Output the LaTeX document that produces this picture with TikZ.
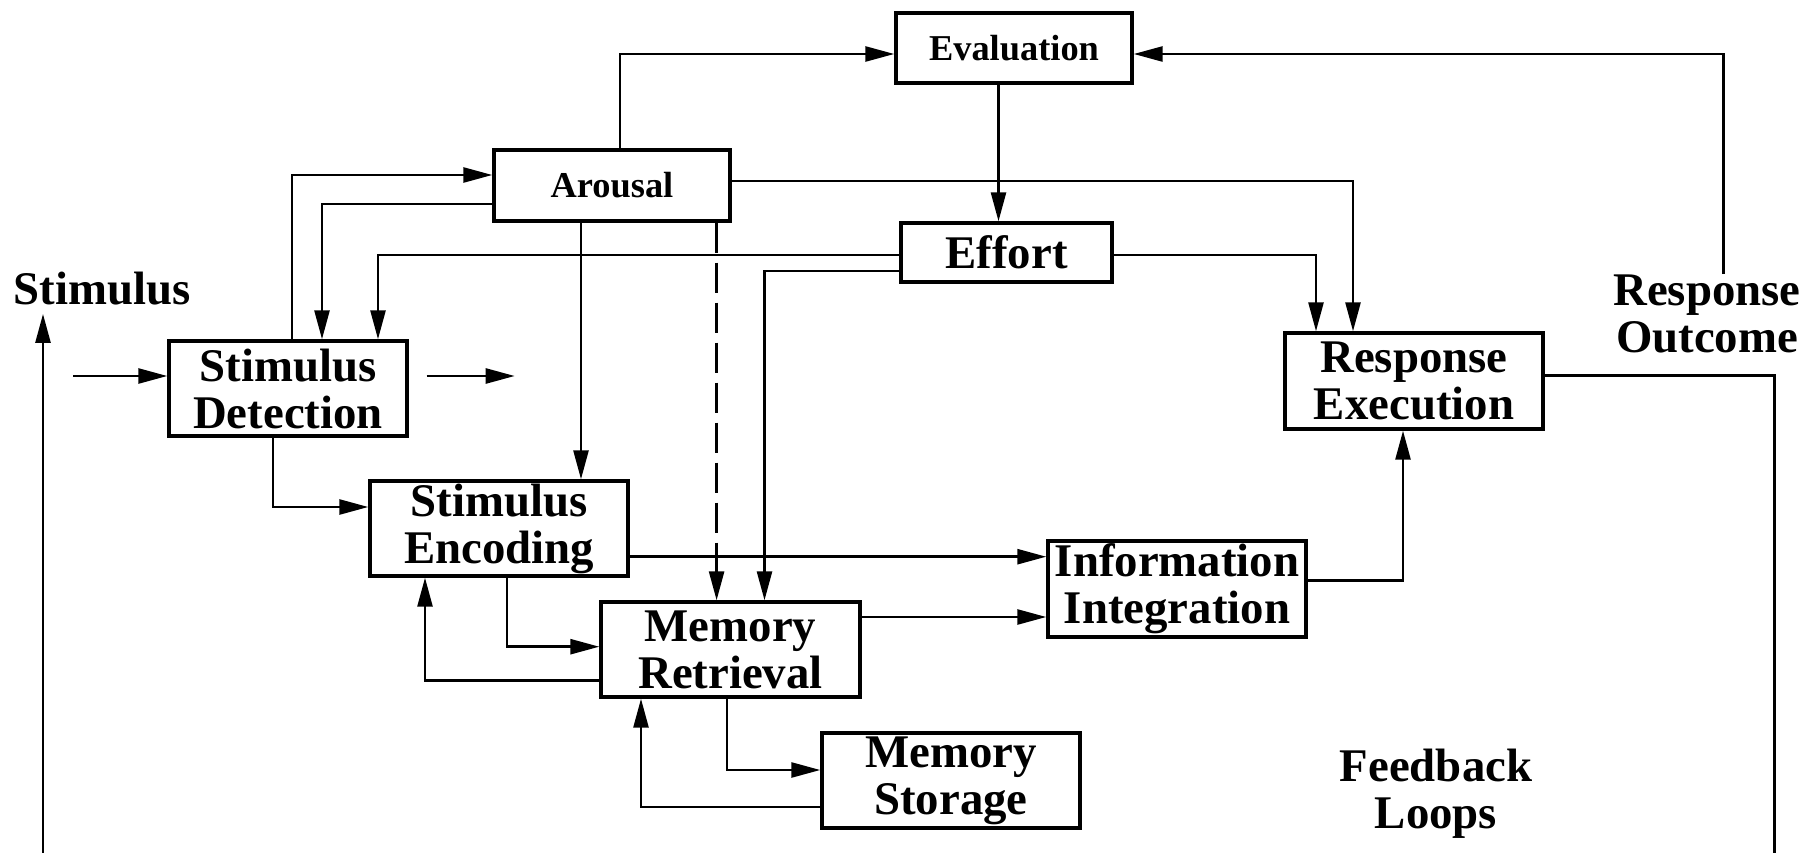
\documentclass[tikz,border=0pt]{standalone}
\usepackage{fontspec}
\setmainfont{Liberation Serif}
\usetikzlibrary{arrows.meta}

\newcommand{\blockfont}{\fontsize{46.8}{47}\selectfont\bfseries}
\newcommand{\smallblockfont}{\fontsize{36.4}{38}\selectfont\bfseries}

\begin{document}
\begin{tikzpicture}[
            x=1pt, y=-1pt,
            block/.style={draw, line width=3.4pt, inner sep=0pt, align=center, font=\blockfont},
            smallblock/.style={block, font=\smallblockfont},
            caption/.style={inner sep=0pt, align=center, font=\blockfont},
            link/.style={line width=2.6pt},
            flow/.style={link, -{Triangle[length=29pt, width=15pt]}},
        ]
            \useasboundingbox (0, 0) rectangle (1812, 853);

            \node[smallblock, minimum width=236, minimum height=70] (evaluation) at (1014, 48) {Evaluation};
            \node[smallblock, minimum width=236, minimum height=71] (arousal) at (612, 185.5) {Arousal};
            \node[block, minimum width=211, minimum height=59] (effort) at (1006.5, 252.5) {Effort};
            \node[block, minimum width=238, minimum height=95] (detection) at (288, 388.5) {Stimulus\\Detection};
            \node[block, minimum width=258, minimum height=95] (encoding) at (499, 528.5) {Stimulus\\Encoding};
            \node[block, minimum width=259, minimum height=95] (retrieval) at (730.5, 649.5) {Memory\\Retrieval};
            \node[block, minimum width=258, minimum height=96] (integration) at (1177, 589) {Information\\Integration};
            \node[block, minimum width=258, minimum height=96] (execution) at (1414, 381) {Response\\Execution};
            \node[block, minimum width=258, minimum height=95] (storage) at (951, 780.5) {Memory\\Storage};

            \node[caption] (stimulus) at (102, 288.5) {Stimulus};
            \node[caption] (outcome) at (1707, 313.5) {Response\\Outcome};
            \node[caption] (feedback) at (1436, 794) {Feedback\\Loops};

            \coordinate (loopL) at (43, 853);
            \coordinate (loopR) at (1774.5, 853);

            % top part
            \draw[flow] ([xshift=8]arousal.north) |- ([yshift=-6]evaluation.east -| evaluation.west);
            \draw[flow] ([xshift=16.6]outcome.north) |- ([yshift=-6]evaluation.east);
            \draw[flow] ([xshift=-15.5]evaluation.south) -- ([xshift=-8]effort.north);
            \draw[flow] ([yshift=4.5]arousal.east) -| ([xshift=-61]execution.north);
            \draw[flow] ([yshift=-2.5]effort.east) -| ([xshift=-98]execution.north);

            % arousal and effort down to the stages
            \draw[flow] ([xshift=4]detection.north) |- ([yshift=10.5]arousal.west);
            \draw[flow] ([yshift=-18.5]arousal.west) -| ([xshift=34]detection.north);
            \draw[flow] ([yshift=-2.5]effort.west) -| ([xshift=90]detection.north);
            \draw[flow] ([xshift=-31]arousal.south) -- ([xshift=82]encoding.north);
            \draw[flow, dash pattern=on 30pt off 10pt] ([xshift=104.6]arousal.south) -- ([xshift=-13.9]retrieval.north);
            \draw[flow] ([yshift=-18.5]effort.west) -| ([xshift=34]retrieval.north);

            % stimulus in
            \draw[flow] ([xshift=-94, yshift=12.5]detection.west) -- ([yshift=12.5]detection.west);
            \draw[flow] ([xshift=18, yshift=12.5]detection.east) -- ++(88, 0);
            \draw[flow] ([xshift=-15]detection.south) |- ([yshift=21.5]encoding.west);

            % memory stages
            \draw[flow] ([yshift=-28.2]encoding.east) -- ([yshift=32.3]integration.west);
            \draw[flow] ([xshift=8]encoding.south) |- ([yshift=2.8]retrieval.west);
            \draw[flow] ([yshift=-31.2]retrieval.west) -| ([xshift=-74]encoding.south);
            \draw[flow] ([yshift=32.5]retrieval.east) -- ([yshift=-28]integration.west);
            \draw[flow] ([xshift=-3.5]retrieval.south) |- ([yshift=10.5]storage.west);
            \draw[flow] ([yshift=-26.5]storage.west) -| ([xshift=-89.5]retrieval.south);
            \draw[flow] ([yshift=8.3]integration.east) -| ([xshift=-11]execution.south);

            % feedback loops
            \draw[flow] (loopL) -- ([xshift=-59, yshift=-8.7]stimulus.south);
            \draw[link] ([yshift=5.3]execution.east) -| (loopR);
        \end{tikzpicture}
\end{document}
